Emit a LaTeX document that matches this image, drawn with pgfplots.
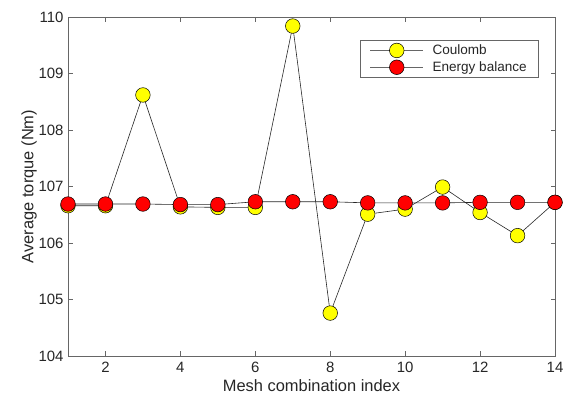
\documentclass[border=0pt]{standalone}
\usepackage{fontspec}
\setmainfont{Liberation Sans}
\usepackage{pgfplots}
\pgfplotsset{compat=1.18}

\definecolor{axgray}{gray}{0.4}
\definecolor{txtgray}{gray}{0.15}
\definecolor{cyellow}{RGB}{255,255,0}
\definecolor{cred}{RGB}{255,0,0}

\begin{document}
\begin{tikzpicture}
% fixed frame around the plot area
\useasboundingbox (-68bp,-48bp) rectangle (495bp,356bp);
\begin{axis}[
  at={(0,0)}, anchor=south west,
  scale only axis,
  width=487bp, height=339bp,
  xmin=1, xmax=14, ymin=104, ymax=110,
  xtick={2,4,...,14},
  ytick={104,105,...,110},
  tick align=inside,
  major tick length=4.5bp,
  axis line style={axgray, line width=0.6pt},
  every tick/.style={axgray, line width=0.6pt},
  tick label style={font=\fontsize{15}{17}\selectfont, text=txtgray},
  /pgf/number format/assume math mode=true,
  xticklabel style={yshift=-3bp},
  yticklabel style={xshift=-1bp},
  label style={font=\fontsize{16.5}{19}\selectfont, text=txtgray},
  xlabel={Mesh combination index},
  ylabel={Average torque (Nm)},
  xlabel style={yshift=0bp},
  ylabel style={yshift=-5bp},
  legend style={
    at={(1,1)}, anchor=north east,
    xshift=-16bp, yshift=-23bp,
    font=\fontsize{13.6}{15}\selectfont,
    text=txtgray,
    draw=axgray, line width=0.6pt,
    inner xsep=10bp, inner ysep=2.5bp,
    row sep=1.5bp,
  },
  legend cell align=left,
  legend image code/.code={
    \draw[mark repeat=2, mark phase=2, #1, draw=black!60]
      plot coordinates {(0bp,0bp) (26.5bp,0bp) (53bp,0bp)};
  },
]
\addplot[black!85, line width=0.6pt, mark=*, mark size=7.3bp,
  mark options={fill=cyellow, draw=black, line width=0.5pt}]
  coordinates {
  (1,106.66) (2,106.66) (3,108.62) (4,106.64) (5,106.63) (6,106.63)
  (7,109.84) (8,104.76) (9,106.51) (10,106.60) (11,106.99) (12,106.54)
  (13,106.13) (14,106.72)
  };
\addlegendentry{\hspace{7bp}Coulomb}
\addplot[black!85, line width=0.6pt, mark=*, mark size=7.3bp,
  mark options={fill=cred, draw=black, line width=0.5pt}]
  coordinates {
  (1,106.69) (2,106.69) (3,106.69) (4,106.68) (5,106.68) (6,106.73)
  (7,106.73) (8,106.73) (9,106.71) (10,106.71) (11,106.71) (12,106.72)
  (13,106.72) (14,106.72)
  };
\addlegendentry{\hspace{7bp}Energy balance}
\end{axis}
\end{tikzpicture}
\end{document}
